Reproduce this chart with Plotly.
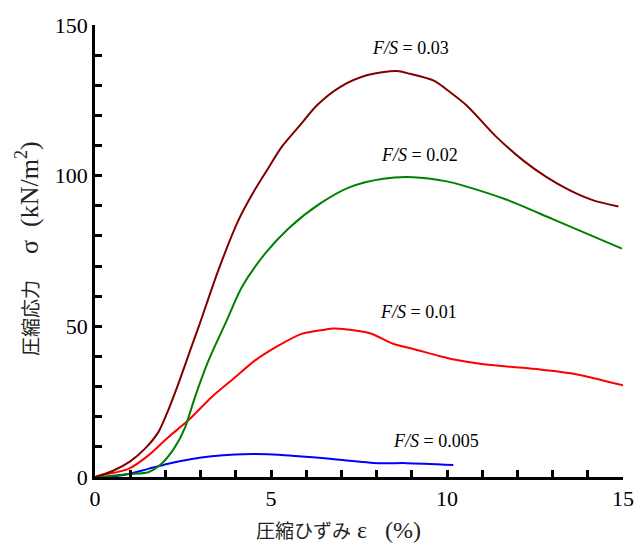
import plotly.graph_objects as go

# F/S = 0.03
x03 = [0, 0.5, 1.0, 1.42, 1.80, 2.04, 2.37, 2.75, 2.98, 3.5, 4.07, 4.5, 4.88, 5.3, 5.82, 6.3, 6.96, 7.72, 8.57, 8.95, 9.61, 10.09, 10.56, 11.41, 12.17, 12.83, 13.49, 14.16, 14.87]
y03 = [0, 2, 5.2, 9.4, 14.9, 21, 31, 43.5, 51, 68.5, 85.1, 94.5, 101.7, 109.5, 116.7, 123.3, 129.4, 133.3, 134.7, 133.8, 131.6, 127.7, 123.3, 112.8, 105, 99.5, 95.1, 91.8, 89.8]
# F/S = 0.02
x02 = [0, 0.3, 0.95, 1.51, 1.89, 2.27, 2.56, 2.84, 3.22, 3.74, 4.17, 4.83, 5.49, 6.39, 7.24, 8.19, 9.04, 9.99, 10.46, 11.7, 13.02, 14.97]
y02 = [0, 0.2, 1, 1.6, 4.4, 9.9, 16.5, 26.5, 38.5, 51.9, 63, 74.1, 82.4, 90.7, 96.2, 99, 99.5, 98.1, 96.7, 92, 85.5, 75.8]
# F/S = 0.01
x01 = [0, 0.28, 0.95, 1.51, 2.08, 2.65, 3.31, 3.98, 4.55, 5.21, 5.87, 6.53, 6.76, 6.96, 7.81, 8.47, 9.04, 9.8, 10.2, 10.94, 11.7, 12.64, 13.59, 14.35, 15.0]
y01 = [0, 0.8, 2.7, 7.1, 13.2, 18.8, 26.5, 33.1, 38.7, 43.6, 47.5, 48.9, 49.3, 49.2, 47.7, 44.2, 42.5, 40.1, 39.0, 37.6, 36.7, 35.7, 34.3, 32.3, 30.4]
# F/S = 0.005
x005 = [0, 0.28, 0.95, 1.51, 2.08, 2.75, 3.31, 3.98, 4.55, 5.21, 5.87, 6.53, 6.96, 8.05, 8.85, 10.18]
y005 = [0, 0, 1.0, 2.7, 4.4, 6.0, 6.9, 7.5, 7.6, 7.4, 6.8, 6.2, 5.7, 4.6, 4.6, 4.0]

series = [
    (x005, y005, "#0000ff", "0.005"),
    (x01, y01, "#ff0000", "0.01"),
    (x02, y02, "#008000", "0.02"),
    (x03, y03, "#800000", "0.03"),
]
labels = [
    ("0.03", 8.95, 142.5),
    ("0.02", 9.23, 106.7),
    ("0.01", 9.2, 54.6),
    ("0.005", 9.7, 12.1),
]

SERIF = "Liberation Serif"
CJK = "Noto Sans CJK JP"

fig = go.Figure()
for xs, ys, c, name in series:
    fig.add_trace(go.Scatter(x=xs, y=ys, mode="lines", name=name,
                             line=dict(color=c, width=2, shape="spline", smoothing=0.8),
                             showlegend=False))

for txt, xv, yv in labels:
    fig.add_annotation(x=xv, y=yv, xref="x", yref="y", showarrow=False,
                       text="<i>F/S</i> = " + txt,
                       font=dict(family=SERIF, size=18, color="black"))

def jp(s, size):
    return "<span style=\"font-family:'%s';font-size:%dpx\">%s</span>" % (CJK, size, s)

fig.add_annotation(x=0.462, y=-0.117, xref="paper", yref="paper", showarrow=False,
                   xanchor="center", yanchor="middle",
                   text=jp("圧縮ひずみ", 19) + "&nbsp;ε&nbsp;&nbsp;&nbsp;(%)",
                   font=dict(family=SERIF, size=24, color="#222"))
fig.add_annotation(x=-0.1288, y=0.5066, xref="paper", yref="paper", showarrow=False,
                   xanchor="center", yanchor="middle", textangle=-90,
                   text=jp("圧縮応力", 19) + "&nbsp;&nbsp;&nbsp;&nbsp;σ&nbsp;&nbsp;(kN/m<sup>2</sup>)",
                   font=dict(family=SERIF, size=26, color="#222"))

axis_common = dict(showgrid=False, zeroline=False, showline=True, linecolor="black",
                   linewidth=2.5, ticks="inside", ticklen=7, tickwidth=2.5,
                   tickcolor="black", tickfont=dict(family=SERIF, size=22, color="black"),
                   mirror=False, automargin=False)

fig.update_xaxes(range=[0, 15], tickmode="array", tickvals=[0, 5, 10, 15],
                 minor=dict(dtick=1, ticks="inside", ticklen=7, tickwidth=2.5, tickcolor="black"),
                 **axis_common)
fig.update_yaxes(range=[0, 150], tickmode="array", tickvals=[0, 50, 100, 150],
                 minor=dict(dtick=10, ticks="inside", ticklen=7, tickwidth=2.5, tickcolor="black"),
                 **axis_common)

fig.update_layout(width=635, height=549, plot_bgcolor="white", paper_bgcolor="white",
                  margin=dict(l=95, r=12, t=25, b=72))

# remove the default page margin so the figure sits at the window's top-left corner
fig.write_html("out.html", config={"displayModeBar": False},
               post_script="document.body.style.margin='0';document.body.style.overflow='hidden';")
